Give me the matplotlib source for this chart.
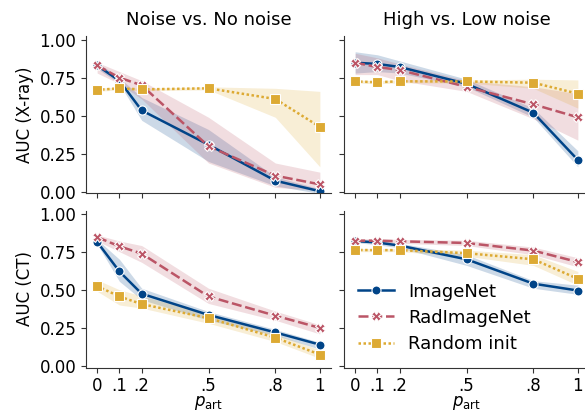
import numpy as np
import matplotlib
matplotlib.use('Agg')
import matplotlib.pyplot as plt

# fraction of artefact images
p_art = [0, 0.1, 0.2, 0.5, 0.8, 1.0]
tick_labels = ['0', '.1', '.2', '.5', '.8', '1']

models = ['ImageNet', 'RadImageNet', 'Random init']
col_titles = ['Noise vs. No noise', 'High vs. Low noise']
row_labels = ['AUC (X-ray)', 'AUC (CT)']

# X-ray, noise vs no noise: mean, lower, upper
xray_nn_imagenet = [0.83, 0.73, 0.535, 0.31, 0.074, 0.005]
xray_nn_imagenet_lo = [0.81, 0.71, 0.47, 0.20, 0.04, -0.01]
xray_nn_imagenet_hi = [0.85, 0.75, 0.62, 0.41, 0.10, 0.02]
xray_nn_rad = [0.83, 0.75, 0.70, 0.30, 0.107, 0.05]
xray_nn_rad_lo = [0.78, 0.71, 0.61, 0.19, 0.03, 0.01]
xray_nn_rad_hi = [0.85, 0.79, 0.73, 0.49, 0.19, 0.13]
xray_nn_rand = [0.67, 0.68, 0.673, 0.68, 0.61, 0.427]
xray_nn_rand_lo = [0.66, 0.67, 0.665, 0.67, 0.49, 0.165]
xray_nn_rand_hi = [0.68, 0.69, 0.68, 0.69, 0.68, 0.66]

# X-ray, high vs low noise
xray_hl_imagenet = [0.848, 0.84, 0.82, 0.71, 0.52, 0.21]
xray_hl_imagenet_lo = [0.78, 0.79, 0.78, 0.69, 0.49, 0.165]
xray_hl_imagenet_hi = [0.92, 0.90, 0.86, 0.74, 0.55, 0.27]
xray_hl_rad = [0.848, 0.82, 0.80, 0.69, 0.575, 0.49]
xray_hl_rad_lo = [0.77, 0.77, 0.73, 0.66, 0.48, 0.34]
xray_hl_rad_hi = [0.91, 0.88, 0.84, 0.73, 0.69, 0.645]
xray_hl_rand = [0.725, 0.72, 0.726, 0.725, 0.717, 0.645]
xray_hl_rand_lo = [0.715, 0.71, 0.716, 0.715, 0.68, 0.55]
xray_hl_rand_hi = [0.735, 0.73, 0.736, 0.735, 0.74, 0.735]

# CT, noise vs no noise
ct_nn_imagenet = [0.814, 0.62, 0.474, 0.335, 0.22, 0.14]
ct_nn_imagenet_lo = [0.80, 0.555, 0.435, 0.30, 0.20, 0.11]
ct_nn_imagenet_hi = [0.83, 0.70, 0.51, 0.357, 0.24, 0.155]
ct_nn_rad = [0.845, 0.785, 0.737, 0.456, 0.33, 0.25]
ct_nn_rad_lo = [0.82, 0.75, 0.68, 0.41, 0.30, 0.21]
ct_nn_rad_hi = [0.86, 0.82, 0.79, 0.51, 0.36, 0.27]
ct_nn_rand = [0.524, 0.456, 0.406, 0.314, 0.186, 0.075]
ct_nn_rand_lo = [0.49, 0.40, 0.38, 0.28, 0.16, 0.05]
ct_nn_rand_hi = [0.565, 0.50, 0.46, 0.34, 0.21, 0.105]

# CT, high vs low noise
ct_hl_imagenet = [0.82, 0.81, 0.79, 0.70, 0.54, 0.495]
ct_hl_imagenet_lo = [0.81, 0.795, 0.775, 0.66, 0.51, 0.47]
ct_hl_imagenet_hi = [0.83, 0.825, 0.805, 0.73, 0.56, 0.53]
ct_hl_rad = [0.822, 0.822, 0.818, 0.807, 0.757, 0.682]
ct_hl_rad_lo = [0.81, 0.81, 0.805, 0.79, 0.73, 0.65]
ct_hl_rad_hi = [0.835, 0.835, 0.83, 0.825, 0.78, 0.71]
ct_hl_rand = [0.761, 0.76, 0.76, 0.74, 0.70, 0.572]
ct_hl_rand_lo = [0.75, 0.75, 0.75, 0.72, 0.66, 0.53]
ct_hl_rand_hi = [0.77, 0.77, 0.77, 0.76, 0.73, 0.62]

panels = [
    [
        [(xray_nn_imagenet, xray_nn_imagenet_lo, xray_nn_imagenet_hi),
         (xray_nn_rad, xray_nn_rad_lo, xray_nn_rad_hi),
         (xray_nn_rand, xray_nn_rand_lo, xray_nn_rand_hi)],
        [(xray_hl_imagenet, xray_hl_imagenet_lo, xray_hl_imagenet_hi),
         (xray_hl_rad, xray_hl_rad_lo, xray_hl_rad_hi),
         (xray_hl_rand, xray_hl_rand_lo, xray_hl_rand_hi)],
    ],
    [
        [(ct_nn_imagenet, ct_nn_imagenet_lo, ct_nn_imagenet_hi),
         (ct_nn_rad, ct_nn_rad_lo, ct_nn_rad_hi),
         (ct_nn_rand, ct_nn_rand_lo, ct_nn_rand_hi)],
        [(ct_hl_imagenet, ct_hl_imagenet_lo, ct_hl_imagenet_hi),
         (ct_hl_rad, ct_hl_rad_lo, ct_hl_rad_hi),
         (ct_hl_rand, ct_hl_rand_lo, ct_hl_rand_hi)],
    ],
]

colors = ['#004488', '#BB5566', '#DDAA33']
markers = ['o', 'X', 's']
dashes = [None, (4, 1.5), (1, 1)]

plt.rcParams['font.family'] = ['DejaVu Sans']
plt.rcParams['axes.edgecolor'] = '0.2'
plt.rcParams['xtick.color'] = '0.2'
plt.rcParams['ytick.color'] = '0.2'
plt.rcParams['xtick.labelcolor'] = 'black'
plt.rcParams['ytick.labelcolor'] = 'black'

fig = plt.figure(figsize=(5.85, 4.2), dpi=100)
left = [86 / 585, 344 / 585]
width = 245 / 585
bottom = [1 - 193.5 / 420, 1 - 367.5 / 420]
height = 157 / 420

for r in range(2):
    for c in range(2):
        ax = fig.add_axes([left[c], bottom[r], width, height])
        for k, (mean, lo, hi) in enumerate(panels[r][c]):
            ax.fill_between(p_art, lo, hi, color=colors[k], alpha=0.2, lw=0)
            line, = ax.plot(p_art, mean, color=colors[k], lw=1.8, marker=markers[k],
                            markersize=6.5, markeredgecolor='white', markeredgewidth=0.8,
                            label=models[k])
            if dashes[k] is not None:
                line.set_dashes(dashes[k])
        ax.set_xlim(-0.05, 1.05)
        ax.set_ylim(-0.01, 1.02)
        ax.set_xticks(p_art)
        ax.set_yticks([0, 0.25, 0.5, 0.75, 1.0])
        if r == 1:
            ax.set_xticklabels(tick_labels, fontsize=12)
            ax.set_xlabel(r'$p_{\mathrm{art}}$', fontsize=12, labelpad=-1)
        else:
            ax.set_xticklabels([])
            ax.set_title(col_titles[c], fontsize=13, pad=8)
        if c == 0:
            ax.set_yticklabels(['0.00', '0.25', '0.50', '0.75', '1.00'], fontsize=12)
            ax.set_ylabel(row_labels[r], fontsize=12)
        else:
            ax.set_yticklabels([])
        ax.spines['top'].set_visible(False)
        ax.spines['right'].set_visible(False)
        if r == 1 and c == 1:
            ax.legend(loc='lower left', bbox_to_anchor=(-0.01, -0.01), frameon=False,
                      fontsize=13, handlelength=2.0, handletextpad=0.8,
                      labelspacing=0.45)

fig.savefig('out.png', dpi=100)
